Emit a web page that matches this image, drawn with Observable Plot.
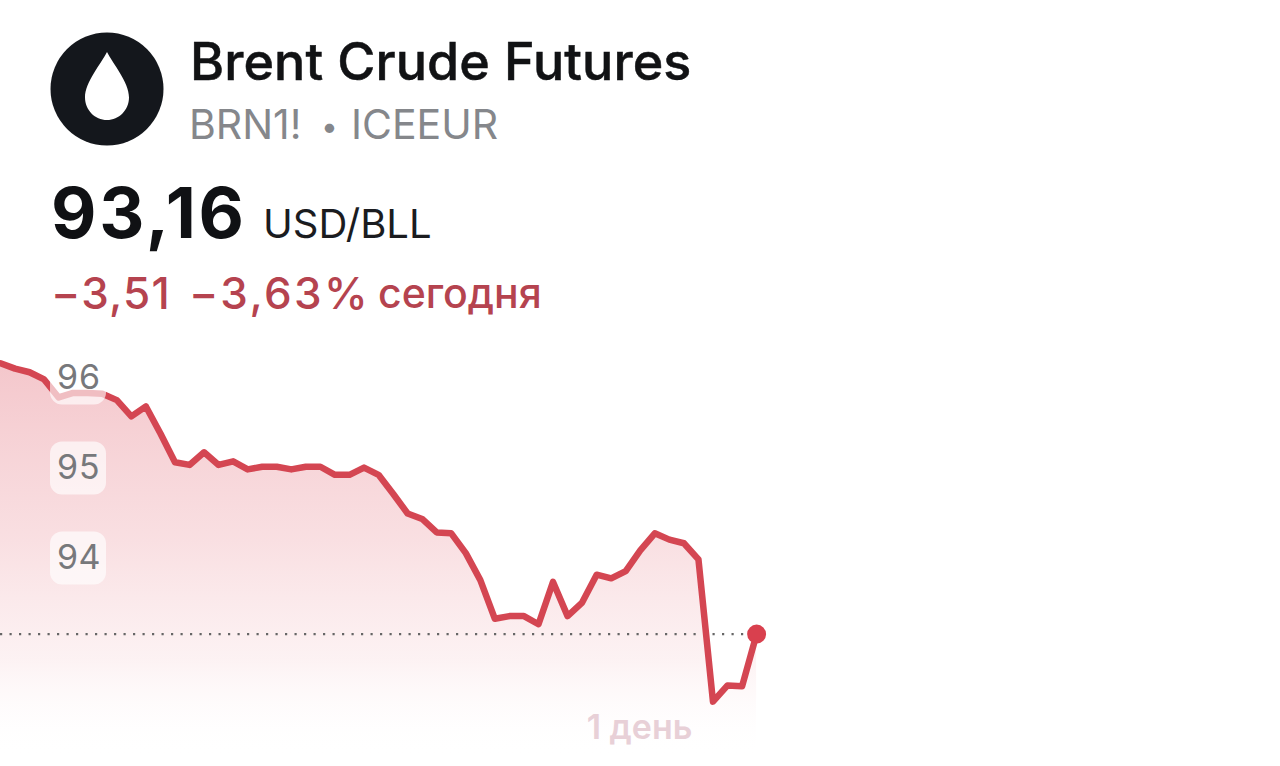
<!DOCTYPE html>
<html><head><meta charset="utf-8">
<script src="https://cdn.jsdelivr.net/npm/d3@7"></script>
<script src="https://cdn.jsdelivr.net/npm/@observablehq/plot@0.6"></script>
<style>
html,body{margin:0;padding:0;background:#fff;overflow:hidden}
body{width:1280px;height:766px;position:relative;font-family:Inter,"Noto Sans",sans-serif}
#head{position:relative;width:1280px;height:345px}
#head>*{position:absolute;white-space:nowrap;line-height:1}
#title{left:190px;top:36px;font-size:52px;font-weight:500;color:#111214;-webkit-text-stroke:.5px #111214;letter-spacing:.1px}
.sub{top:104px;font-size:41px;color:#85878b}
#price{left:51px;top:178px;font-size:70px;font-weight:700;color:#101114;letter-spacing:2.8px}
#unit{left:263px;top:204px;font-size:40px;font-weight:400;color:#1b1c1f}
.chg{top:271px;font-size:44px;font-weight:500;color:#b5434f;letter-spacing:1.2px}
#today{left:378px;top:273px;font-size:41px;font-weight:500;color:#b5434f}
#plot svg{display:block}
</style></head><body>
<div id="head">
<svg width="114" height="114" viewBox="0 0 114 114" style="left:50px;top:32px"><circle cx="57" cy="57" r="56.5" fill="#14171c"/><path d="M57 20 C63 32 79 50 79 65.5 C79 78 69 88 57 88 C45 88 35 78 35 65.5 C35 50 51 32 57 20 Z" fill="#fff"/></svg>
<div id="title">Brent Crude Futures</div>
<div class="sub" style="left:189px">BRN1!</div>
<div class="sub" style="left:321px;font-size:30px;top:111px">•</div>
<div class="sub" style="left:351px">ICEEUR</div>
<div id="price">93,16</div>
<div id="unit">USD/BLL</div>
<div class="chg" style="left:51px">−3,51</div>
<div class="chg" style="left:189px;letter-spacing:2.4px">−3,63%</div>
<div id="today">сегодня</div>
</div>
<div id="plot"></div>
<script>
const steps = d3.range(53);
const prices = [96.17,96.11,96.07,95.99,95.79,95.84,95.84,95.83,95.76,95.58,95.69,95.39,95.07,95.04,95.18,95.04,95.08,94.99,95.02,95.02,94.99,95.02,95.02,94.93,94.93,95.01,94.93,94.72,94.50,94.44,94.29,94.28,94.06,93.76,93.33,93.36,93.36,93.27,93.74,93.36,93.51,93.82,93.78,93.86,94.09,94.28,94.21,94.17,93.99,92.41,92.59,92.58,93.16];
const yTicks = [94,95,96];
const last = 93.16;
const rows = steps.map((s,i)=>({s,p:prices[i]}));
const xDomain = [0,88.03], yDomain = [91.689,96.367];
const defs = () => {
  const g = d3.create("svg:defs");
  const lg = g.append("linearGradient").attr("id","fade").attr("x1",0).attr("x2",0).attr("y1",0).attr("y2",1);
  [[0,"#ec9ea6",.58],[.45,"#f2b8be",.45],[.75,"#f8d8db",.34],[1,"#ffffff",0]].forEach(([o,c,a])=>lg.append("stop").attr("offset",o).attr("stop-color",c).attr("stop-opacity",a));
  return g.node();
};
const chart = Plot.plot({
  width:1280,height:421,margin:0,
  style:{background:"transparent",fontFamily:"Inter,'Noto Sans',sans-serif"},
  x:{domain:xDomain,axis:null},
  y:{domain:yDomain,axis:null},
  marks:[
    defs,
    Plot.areaY(rows,{x:"s",y1:yDomain[0]+0.1,y2:"p",fill:"url(#fade)"}),
    Plot.ruleY([last],{x1:0,x2:52,stroke:"#666",strokeWidth:2.2,strokeDasharray:"2.2 7.3"}),
    Plot.lineY(rows,{x:"s",y:"p",stroke:"#d44652",strokeWidth:6.5,strokeLinejoin:"round"}),
    Plot.dot([rows[52]],{x:"s",y:"p",r:9.5,fill:"#d9404e"}),
    Plot.rect(yTicks,{x1:3.44,x2:7.29,y1:d=>d-0.295,y2:d=>d+0.295,rx:12,fill:"#fff",fillOpacity:.65}),
    Plot.axisY(yTicks,{anchor:"left",tickSize:0,tickPadding:0,dx:78,textAnchor:"middle",tickFormat:"d",label:null,fontSize:34,fill:"#77787b"}),
    Plot.text(["1 день"],{x:[43.95],y:[92.12],fontSize:34,fontWeight:600,fill:"#e8d0d7"})
  ]
});
document.getElementById("plot").append(chart);
</script>
</body></html>
